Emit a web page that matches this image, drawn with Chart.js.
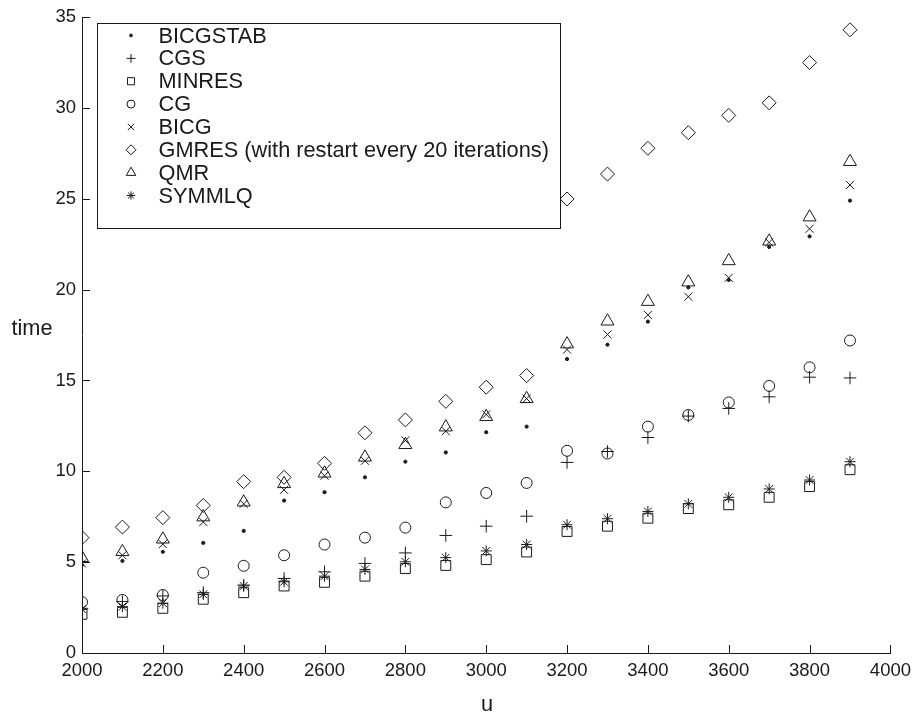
<!DOCTYPE html>
<html>
<head>
<meta charset="utf-8">
<script src="https://cdn.jsdelivr.net/npm/chart.js@4/dist/chart.umd.min.js"></script>
<style>
  html, body { margin: 0; padding: 0; background: #fff; }
  #wrap { width: 918px; height: 719px; }
</style>
</head>
<body>
<div id="wrap"><canvas id="grafico" width="918" height="719"></canvas></div>
<script>
// u values (x axis)
const u = [2000, 2100, 2200, 2300, 2400, 2500, 2600, 2700, 2800, 2900,
           3000, 3100, 3200, 3300, 3400, 3500, 3600, 3700, 3800, 3900]

// time per solver
const bicgstab = [4.84, 5.07, 5.57, 6.06, 6.72, 8.39, 8.85, 9.67, 10.53, 11.04, 12.15, 12.46, 16.18, 16.97, 18.24, 20.12, 20.53, 22.35, 22.93, 24.9]
const cgs      = [2.46, 2.83, 3.14, 3.32, 3.74, 4.1, 4.47, 4.93, 5.51, 6.47, 6.98, 7.53, 10.49, 11.09, 11.86, 13.04, 13.46, 14.1, 15.18, 15.14]
const minres   = [2.13, 2.24, 2.46, 2.96, 3.32, 3.69, 3.89, 4.23, 4.65, 4.82, 5.14, 5.56, 6.69, 6.98, 7.42, 7.95, 8.16, 8.57, 9.16, 10.09]
const cg       = [2.8, 2.92, 3.19, 4.42, 4.8, 5.38, 5.97, 6.35, 6.9, 8.29, 8.81, 9.36, 11.13, 10.98, 12.46, 13.1, 13.79, 14.7, 15.72, 17.2]
const bicg     = [4.93, 5.38, 5.99, 7.21, 8.21, 8.98, 9.76, 10.58, 11.7, 12.21, 13.13, 14.0, 16.7, 17.53, 18.61, 19.61, 20.65, 22.6, 23.35, 25.76]
const gmres    = [6.35, 6.93, 7.45, 8.12, 9.43, 9.67, 10.44, 12.12, 12.83, 13.85, 14.63, 15.27, 24.99, 26.36, 27.78, 28.64, 29.59, 30.28, 32.5, 34.3]
const qmr      = [5.24, 5.57, 6.26, 7.48, 8.3, 9.31, 9.89, 10.77, 11.46, 12.43, 13.0, 13.99, 17.0, 18.26, 19.34, 20.41, 21.58, 22.66, 23.99, 27.04]
const symmlq   = [2.41, 2.55, 2.74, 3.23, 3.69, 3.92, 4.23, 4.6, 5.02, 5.25, 5.62, 5.97, 7.06, 7.39, 7.79, 8.21, 8.57, 9.03, 9.52, 10.53]

const labels = ['BICGSTAB', 'CGS', 'MINRES', 'CG', 'BICG',
                'GMRES (with restart every 20 iterations)', 'QMR', 'SYMMLQ']
const xTicks = [2000, 2200, 2400, 2600, 2800, 3000, 3200, 3400, 3600, 3800, 4000]
const yTicks = [0, 5, 10, 15, 20, 25, 30, 35]

const ink = '#1a1a1a'
const font = 'Liberation Sans, Arial, Helvetica, sans-serif'

// marker style per series: [pointStyle, radius in plot, radius in legend, filled]
const markers = [
  ['circle', 1.6, 1.4, true],
  ['cross', 6.3, 4.5, false],
  ['rect', 7, 5, false],
  ['circle', 5.5, 4, false],
  ['crossRot', 5.7, 4.5, false],
  ['rectRot', 7, 5, false],
  ['triangle', 7.5, 5.5, false],
  ['star', 5.5, 4.2, false]
]
const series = [bicgstab, cgs, minres, cg, bicg, gmres, qmr, symmlq]

const datasets = series.map((vals, i) => ({
  label: labels[i],
  data: vals.map((v, j) => ({x: u[j], y: v})),
  showLine: false,
  pointStyle: markers[i][0],
  pointRadius: markers[i][1],
  pointHoverRadius: markers[i][1],
  pointBorderWidth: 1,
  pointBorderColor: ink,
  pointBackgroundColor: markers[i][3] ? ink : 'rgba(0,0,0,0)'
}))

// ticks pointing into the plot, like the original
const innerTicks = {
  id: 'innerTicks',
  beforeDatasetsDraw(chart) {
    const {ctx, chartArea, scales: {x, y}} = chart
    ctx.save()
    ctx.strokeStyle = ink
    ctx.lineWidth = 1
    ctx.beginPath()
    x.ticks.forEach(t => {
      const px = Math.round(x.getPixelForValue(t.value)) + 0.5
      ctx.moveTo(px, chartArea.bottom)
      ctx.lineTo(px, chartArea.bottom - 8)
    })
    y.ticks.forEach(t => {
      const py = Math.round(y.getPixelForValue(t.value)) + 0.5
      ctx.moveTo(chartArea.left, py)
      ctx.lineTo(chartArea.left + 8, py)
    })
    ctx.stroke()
    ctx.restore()
  }
}

// boxed legend in the upper left plus the two horizontal axis titles
const boxLegend = {
  id: 'boxLegend',
  afterDatasetsDraw(chart) {
    const ctx = chart.ctx
    ctx.save()
    ctx.fillStyle = '#fff'
    ctx.fillRect(97.5, 23.5, 463, 205)
    ctx.strokeStyle = ink
    ctx.lineWidth = 1
    ctx.strokeRect(97.5, 23.5, 463, 205)
    ctx.font = '21.75px ' + font
    ctx.textBaseline = 'middle'
    ctx.textAlign = 'left'
    for (let i = 0; i < labels.length; i++) {
      const ry = 35.5 + i * 22.86
      ctx.fillStyle = markers[i][3] ? ink : 'rgba(0,0,0,0)'
      ctx.strokeStyle = ink
      Chart.helpers.drawPoint(ctx, {pointStyle: markers[i][0], radius: markers[i][2], rotation: 0, borderWidth: 1}, 131, ry)
      ctx.fillStyle = ink
      ctx.fillText(labels[i], 158.5, ry + 1)
    }
    ctx.textAlign = 'center'
    ctx.fillText('time', 32, 329)
    ctx.fillText('u', 487, 705)
    ctx.restore()
  }
}

const graph = new Chart(document.getElementById('grafico').getContext('2d'), {
  type: 'scatter',
  data: { datasets: datasets },
  options: {
    responsive: false,
    devicePixelRatio: 1,
    animation: false,
    events: [],
    layout: { padding: { left: 0, right: 25, top: 14, bottom: 0 } },
    plugins: { legend: { display: false }, tooltip: { enabled: false } },
    scales: {
      x: {
        type: 'linear', min: 2000, max: 4000,
        afterBuildTicks: s => { s.ticks = xTicks.map(v => ({value: v})) },
        afterFit: s => { s.height = 66 },
        grid: { display: false, drawTicks: false },
        border: { display: true, color: ink, width: 1 },
        ticks: { color: ink, padding: 7, maxRotation: 0, autoSkip: false, callback: v => String(v), font: { family: font, size: 18.5 } }
      },
      y: {
        type: 'linear', min: 0, max: 35,
        afterBuildTicks: s => { s.ticks = yTicks.map(v => ({value: v})) },
        afterFit: s => { s.width = 82 },
        grid: { display: false, drawTicks: false },
        border: { display: true, color: ink, width: 1 },
        ticks: { color: ink, padding: 6, autoSkip: false, callback: v => String(v), font: { family: font, size: 18.5 } }
      }
    }
  },
  plugins: [innerTicks, boxLegend]
})
</script>
</body>
</html>
